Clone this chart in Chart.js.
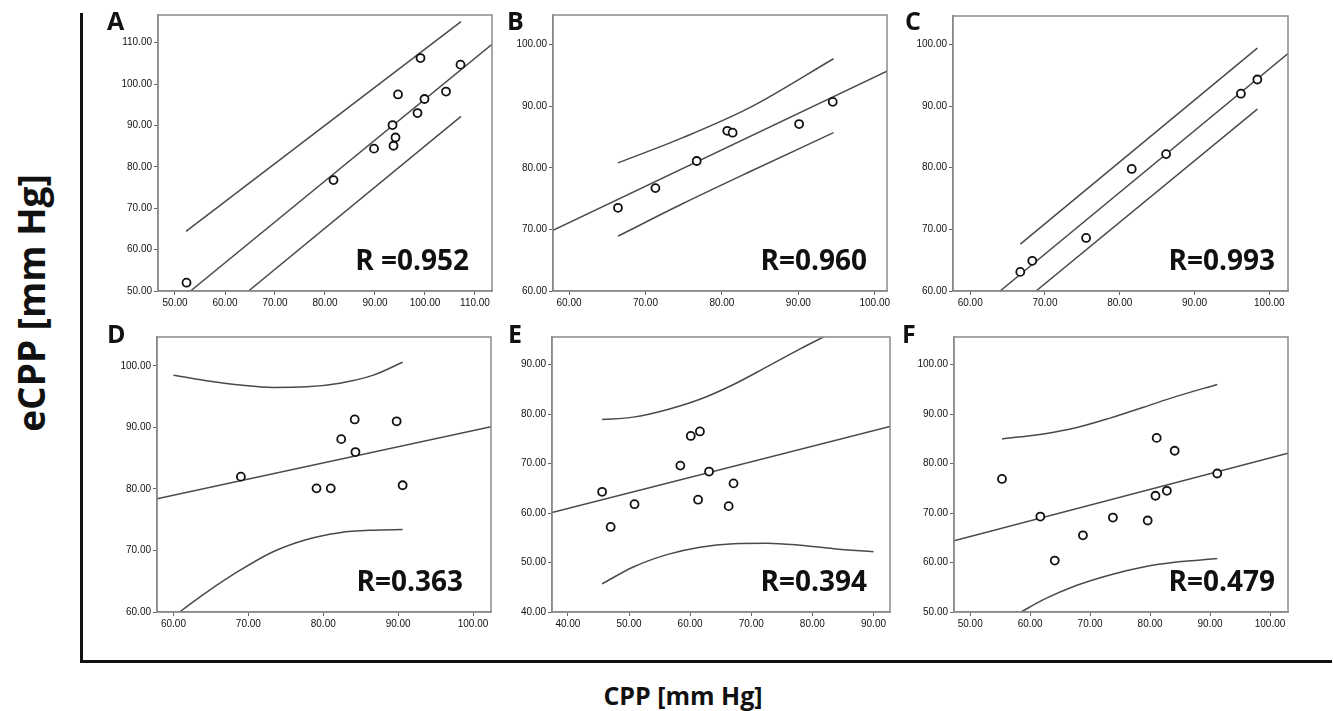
<!DOCTYPE html>
<html>
<head>
<meta charset="utf-8">
<script src="https://cdn.jsdelivr.net/npm/chart.js@4.4.0/dist/chart.umd.min.js"></script>
<style>
  body { margin: 0; background: #fff; width: 1333px; height: 711px; position: relative; overflow: hidden; font-family: "Open Sans", sans-serif; }
  canvas { position: absolute; }
  .frame-v { position: absolute; left: 80px; top: 13px; width: 3px; height: 650px; background: #111; }
  .frame-h { position: absolute; left: 80px; top: 660px; width: 1252px; height: 3px; background: #111; }
  .ytitle { position: absolute; left: 30px; top: 303px; transform: translate(-50%, -50%) rotate(-90deg); font-weight: 700; font-size: 37px; white-space: nowrap; color: #111; }
  .xtitle { position: absolute; left: 683px; top: 695px; transform: translate(-50%, -50%); font-weight: 700; font-size: 25px; white-space: nowrap; color: #111; }
</style>
</head>
<body>
<div class="frame-v"></div>
<div class="frame-h"></div>
<div class="ytitle">eCPP [mm Hg]</div>
<div class="xtitle">CPP [mm Hg]</div>

<script>
// ---- data ----
// A
const aCpp  = [52.3, 81.7, 89.8, 93.5, 94.1, 93.7, 94.6, 99.1, 98.5, 99.9, 104.2, 107.1];
const aEcpp = [52.0, 76.8, 84.4, 90.1, 87.1, 85.1, 97.5, 106.3, 93.0, 96.4, 98.2, 104.7];
const aFitX = [53.1, 113.4], aFitY = [50.0, 109.6];
const aUpX = [52.2, 107.2], aUpY = [64.4, 115.1];
const aLoX = [64.7, 107.2], aLoY = [50.0, 92.2];
// B
const bCpp  = [66.4, 71.3, 76.7, 80.7, 81.4, 90.1, 94.5];
const bEcpp = [73.5, 76.7, 81.1, 86.0, 85.7, 87.1, 90.7];
const bFitX = [57.9, 101.6], bFitY = [69.85, 95.7];
const bUpX = [66.4, 74.9, 83.7, 94.6], bUpY = [80.8, 84.9, 89.8, 97.7];
const bLoX = [66.4, 74.9, 83.7, 94.6], bLoY = [68.9, 74.2, 79.4, 85.7];
// C
const cCpp  = [66.7, 68.3, 75.5, 81.6, 86.2, 96.2, 98.4];
const cEcpp = [63.1, 64.9, 68.6, 79.8, 82.2, 92.0, 94.3];
const cFitX = [64.0, 102.5], cFitY = [60.0, 98.5];
const cUpX = [66.7, 98.4], cUpY = [67.6, 99.4];
const cLoX = [68.8, 98.4], cLoY = [60.0, 89.5];
// D
const dCpp  = [69.0, 79.1, 81.0, 82.4, 84.2, 84.3, 89.8, 90.6];
const dEcpp = [82.0, 80.1, 80.1, 88.1, 91.3, 86.0, 91.0, 80.6];
const dFitX = [57.8, 102.4], dFitY = [78.4, 90.1];
const dUpX = [60.0, 64.4, 68.9, 73.3, 77.8, 82.2, 86.7, 90.6];
const dUpY = [98.5, 97.6, 96.9, 96.5, 96.6, 97.2, 98.5, 100.6];
const dLoX = [60.8, 64.4, 68.9, 73.3, 77.8, 82.2, 86.7, 90.6];
const dLoY = [60.0, 63.2, 66.8, 69.8, 71.8, 72.9, 73.3, 73.4];
// E
const eCpp  = [45.6, 47.0, 50.9, 58.4, 60.1, 61.6, 61.3, 63.1, 66.3, 67.1];
const eEcpp = [64.3, 57.2, 61.8, 69.6, 75.6, 76.5, 62.7, 68.4, 61.4, 66.0];
const eFitX = [37.4, 92.7], eFitY = [60.1, 77.5];
const eUpX = [45.6, 50.7, 56.2, 61.6, 67.1, 72.6, 78.0, 84.0, 90.0];
const eUpY = [78.9, 79.4, 80.9, 83.0, 86.0, 89.6, 93.2, 97.0, 101.0];
const eLoX = [45.6, 50.7, 56.2, 61.6, 67.1, 72.6, 78.0, 83.5, 90.0];
const eLoY = [45.7, 49.1, 51.6, 53.1, 53.8, 53.9, 53.5, 52.8, 52.2];
// F
const fCpp  = [55.3, 61.7, 64.1, 68.8, 73.8, 79.6, 80.9, 81.1, 82.8, 84.1, 91.2];
const fEcpp = [76.9, 69.3, 60.4, 65.5, 69.1, 68.5, 73.5, 85.2, 74.5, 82.6, 78.0];
const fFitX = [47.3, 103.0], fFitY = [64.4, 82.1];
const fUpX = [55.3, 62.2, 67.8, 73.3, 78.9, 84.4, 91.2];
const fUpY = [85.0, 86.0, 87.3, 89.2, 91.4, 93.6, 96.0];
const fLoX = [58.5, 62.2, 67.8, 73.3, 78.9, 84.4, 91.2];
const fLoY = [50.0, 52.5, 55.4, 57.5, 59.1, 60.1, 60.8];

// axis ranges and tick labels
const ticks50to110 = [50, 60, 70, 80, 90, 100, 110];
const ticks60to100 = [60, 70, 80, 90, 100];
const ticks40to90 = [40, 50, 60, 70, 80, 90];
const ticks50to100 = [50, 60, 70, 80, 90, 100];
const rLabels = ['R =0.952', 'R=0.960', 'R=0.993', 'R=0.363', 'R=0.394', 'R=0.479'];
const panelLetters = ['A', 'B', 'C', 'D', 'E', 'F'];

// ---- layout (page pixels) ----
const PAD_L = 72, PAD_T = 24, PAD_R = 8, PAD_B = 28;

const zip = (xs, ys) => xs.map((x, i) => ({ x: x, y: ys[i] }));

// frame around plot + panel letter + R label
const decor = {
    id: 'decor',
    afterDraw(chart, args, o) {
        const { ctx, chartArea: a } = chart;
        ctx.save();
        ctx.strokeStyle = '#8a8a8a';
        ctx.lineWidth = 1.5;
        ctx.strokeRect(a.left, a.top, a.right - a.left, a.bottom - a.top);
        ctx.fillStyle = '#111';
        ctx.font = '700 25px "Open Sans"';
        ctx.textAlign = 'left';
        ctx.textBaseline = 'alphabetic';
        ctx.fillText(o.letter, a.left + o.letterDx, a.top + o.letterDy);
        ctx.font = '700 28px "Open Sans"';
        ctx.textAlign = 'right';
        ctx.fillText(o.r, a.right - o.rDx, a.bottom - o.rDy);
        ctx.restore();
    }
};

function axis(range, tickVals, isY) {
    return {
        type: 'linear',
        min: range[0],
        max: range[1],
        afterBuildTicks: s => { s.ticks = tickVals.map(v => ({ value: v })); },
        afterFit: s => { if (isY) s.width = PAD_L; else s.height = PAD_B; },
        ticks: {
            callback: v => Number(v).toFixed(2),
            font: { family: 'Liberation Sans', size: 10 },
            color: '#111',
            padding: 2,
            autoSkip: false,
            maxRotation: 0
        },
        grid: { drawOnChartArea: false, tickLength: 4, color: '#666', lineWidth: 1 },
        border: { display: true, color: '#8a8a8a', width: 1.5 }
    };
}

function panel(i, box, pts, fit, up, lo, xRange, yRange, xTicks, yTicks, letterDx, letterDy, rDx, rDy) {
    const cv = document.createElement('canvas');
    const w = box[2] - box[0] + PAD_L + PAD_R;
    const h = box[3] - box[1] + PAD_T + PAD_B;
    cv.width = w; cv.height = h;
    cv.style.left = (box[0] - PAD_L) + 'px';
    cv.style.top = (box[1] - PAD_T) + 'px';
    document.body.appendChild(cv);

    const lineStyle = { showLine: true, pointRadius: 0, borderColor: '#4a4a4a', borderWidth: 1.5, fill: false };
    const curve = { cubicInterpolationMode: 'monotone' };

    new Chart(cv.getContext('2d'), {
        type: 'scatter',
        data: {
            datasets: [
                { data: pts, pointRadius: 4, pointBorderWidth: 1.8, pointBorderColor: '#111', pointBackgroundColor: '#fff', showLine: false },
                { data: fit, ...lineStyle },
                { data: up, ...lineStyle, ...curve },
                { data: lo, ...lineStyle, ...curve }
            ]
        },
        options: {
            responsive: false,
            animation: false,
            devicePixelRatio: 1,
            layout: { padding: { left: 0, top: PAD_T, right: PAD_R, bottom: 0 } },
            plugins: {
                legend: { display: false },
                tooltip: { enabled: false },
                decor: { letter: panelLetters[i], r: rLabels[i], letterDx, letterDy, rDx, rDy }
            },
            scales: {
                x: axis(xRange, xTicks, false),
                y: axis(yRange, yTicks, true)
            }
        },
        plugins: [decor]
    });
}

panel(0, [158, 15, 492, 291], zip(aCpp, aEcpp), zip(aFitX, aFitY), zip(aUpX, aUpY), zip(aLoX, aLoY),
    [46.6, 113.4], [50, 116.7], ticks50to110, ticks50to110, -51, 15, 23, 21);
panel(1, [553, 15, 887, 291], zip(bCpp, bEcpp), zip(bFitX, bFitY), zip(bUpX, bUpY), zip(bLoX, bLoY),
    [57.9, 101.6], [60, 104.8], ticks60to100, ticks60to100, -46, 15, 20, 21);
panel(2, [953, 16, 1288, 291], zip(cCpp, cEcpp), zip(cFitX, cFitY), zip(cUpX, cUpY), zip(cLoX, cLoY),
    [57.7, 102.5], [60, 104.6], ticks60to100, ticks60to100, -48, 14, 13, 21);
panel(3, [157, 337, 491, 612], zip(dCpp, dEcpp), zip(dFitX, dFitY), zip(dUpX, dUpY), zip(dLoX, dLoY),
    [57.8, 102.4], [60, 104.7], ticks60to100, ticks60to100, -50, 6, 28, 21);
panel(4, [552, 337, 890, 612], zip(eCpp, eEcpp), zip(eFitX, eFitY), zip(eUpX, eUpY), zip(eLoX, eLoY),
    [37.4, 92.7], [40, 95.6], ticks40to90, ticks40to90, -44, 6, 23, 21);
panel(5, [954, 337, 1288, 612], zip(fCpp, fEcpp), zip(fFitX, fFitY), zip(fUpX, fUpY), zip(fLoX, fLoY),
    [47.3, 103.0], [50, 105.6], ticks50to100, ticks50to100, -52, 6, 13, 21);
</script>
</body>
</html>
